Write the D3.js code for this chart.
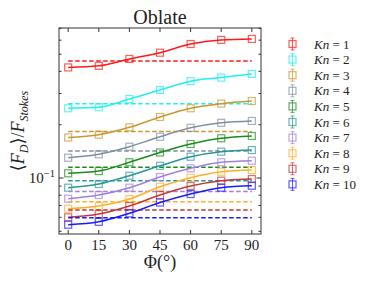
<!DOCTYPE html>
<html>
<head>
<meta charset="utf-8">
<script src="https://cdn.jsdelivr.net/npm/d3@7"></script>
<style>
  body { margin: 0; background: #fff; }
  text { font-family: 'Liberation Serif', 'DejaVu Serif', serif; fill: #222; }
</style>
</head>
<body>
<svg width="374" height="281"></svg>
<script>
const phi = [0, 15, 30, 45, 60, 75, 90];
const knLabels = ['1', '2', '3', '4', '5', '6', '7', '8', '9', '10'];
const colors = ['#ff1a1a', '#1ff0f0', '#c9972e', '#7f8ea0', '#1a8c1a',
  '#2a9696', '#a080e0', '#ffad2a', '#c03838', '#1a1aff'];

// <F_D>/F_Stokes per Kn, one value per phi
const drag = [
  [0.421, 0.430, 0.470, 0.510, 0.571, 0.602, 0.610],
  [0.2476, 0.251, 0.279, 0.314, 0.352, 0.369, 0.387],
  [0.1694, 0.1757, 0.1933, 0.221, 0.2476, 0.263, 0.272],
  [0.1302, 0.1361, 0.1502, 0.171, 0.192, 0.205, 0.210],
  [0.1063, 0.1095, 0.1227, 0.1393, 0.1556, 0.1676, 0.1727],
  [0.0882, 0.0925, 0.1030, 0.1172, 0.1319, 0.1408, 0.1439],
  [0.0764, 0.0802, 0.0882, 0.1013, 0.1134, 0.1227, 0.1252],
  [0.0671, 0.0695, 0.0761, 0.0893, 0.1004, 0.1085, 0.1110],
  [0.0600, 0.0626, 0.0695, 0.0802, 0.0901, 0.0966, 0.0987],
  [0.0545, 0.0566, 0.0632, 0.0727, 0.0812, 0.0882, 0.0905]
];
// orientation-averaged reference (dashed)
const average = [0.458, 0.263, 0.183, 0.142, 0.1149, 0.0966, 0.0839, 0.0735, 0.0659, 0.0597];

const xTicks = [0, 15, 30, 45, 60, 75, 90];
const yMinor = [0.05, 0.06, 0.07, 0.08, 0.09, 0.2, 0.3, 0.4, 0.5, 0.6, 0.7];

const svg = d3.select('svg');
const mLeft = 59, mRight = 261, mTop = 28, mBottom = 234;

const x = d3.scaleLinear().domain([-4.5, 94.5]).range([mLeft, mRight]);
const y = d3.scaleLog().domain([0.0483, 0.703]).range([mBottom, mTop]);

const line = d3.line()
  .x((d, i) => x(phi[i]))
  .y((d) => y(d))
  .curve(d3.curveMonotoneX);

const plot = svg.append('g');

drag.forEach((series, k) => {
  plot.append('line')
    .attr('x1', x(0)).attr('x2', x(90))
    .attr('y1', y(average[k])).attr('y2', y(average[k]))
    .attr('stroke', colors[k])
    .attr('stroke-width', 1.5)
    .attr('stroke-dasharray', '4.5,2.5');

  plot.append('path')
    .attr('d', line(series))
    .attr('fill', 'none')
    .attr('stroke', colors[k])
    .attr('stroke-width', 1.5);

  plot.selectAll(null)
    .data(series)
    .enter()
    .append('rect')
    .attr('x', (d, i) => x(phi[i]) - 3.5)
    .attr('y', (d) => y(d) - 3.5)
    .attr('width', 7)
    .attr('height', 7)
    .attr('fill', 'none')
    .attr('stroke', colors[k])
    .attr('stroke-opacity', 0.7)
    .attr('stroke-width', 1.2);
});

// axes, ticks inward on all four sides
const axes = svg.append('g').attr('stroke', '#333');
axes.append('rect')
  .attr('x', mLeft).attr('y', mTop)
  .attr('width', mRight - mLeft).attr('height', mBottom - mTop)
  .attr('fill', 'none').attr('stroke-width', 1);

xTicks.forEach((t) => {
  axes.append('line').attr('x1', x(t)).attr('x2', x(t)).attr('y1', mBottom).attr('y2', mBottom - 4);
  axes.append('line').attr('x1', x(t)).attr('x2', x(t)).attr('y1', mTop).attr('y2', mTop + 4);
});
[[0.1, 4.5]].concat(yMinor.map((v) => [v, 2.5])).forEach(([v, len]) => {
  axes.append('line').attr('x1', mLeft).attr('x2', mLeft + len).attr('y1', y(v)).attr('y2', y(v));
  axes.append('line').attr('x1', mRight).attr('x2', mRight - len).attr('y1', y(v)).attr('y2', y(v));
});

svg.selectAll('.xlab')
  .data(xTicks)
  .enter()
  .append('text')
  .attr('x', (d) => x(d))
  .attr('y', 250)
  .attr('text-anchor', 'middle')
  .attr('font-size', 15)
  .text((d) => d);

const yl = svg.append('text')
  .attr('x', 55)
  .attr('y', y(0.1) + 5)
  .attr('text-anchor', 'end')
  .attr('font-size', 15);
yl.append('tspan').text('10');
yl.append('tspan').attr('dy', -6).attr('font-size', 10.5).text('\u22121');

svg.append('text')
  .attr('x', (mLeft + mRight) / 2)
  .attr('y', 24)
  .attr('text-anchor', 'middle')
  .attr('font-size', 20)
  .text('Oblate');

const xl = svg.append('text')
  .attr('x', (mLeft + mRight) / 2)
  .attr('y', 268)
  .attr('text-anchor', 'middle')
  .attr('font-size', 18);
xl.append('tspan').text('\u03a6(\u00b0)');

const ylab = svg.append('text')
  .attr('transform', `translate(24,${(mTop + mBottom) / 2}) rotate(-90)`)
  .attr('text-anchor', 'middle')
  .attr('font-size', 18);
ylab.append('tspan').text('\u27e8');
ylab.append('tspan').attr('font-style', 'italic').text('F');
ylab.append('tspan').attr('font-style', 'italic').attr('font-size', 12).attr('dy', 4).text('D');
ylab.append('tspan').attr('dy', -4).text('\u27e9/');
ylab.append('tspan').attr('font-style', 'italic').text('F');
ylab.append('tspan').attr('font-style', 'italic').attr('font-size', 12).attr('dy', 4).text('Stokes');

// legend
const legend = svg.append('g');
knLabels.forEach((kn, k) => {
  const ly = 44 + k * 15.6;
  const g = legend.append('g').attr('stroke', colors[k]).attr('stroke-opacity', 0.7);
  g.append('line').attr('x1', 292.5).attr('x2', 292.5).attr('y1', ly - 6).attr('y2', ly + 6).attr('stroke-width', 1);
  g.append('line').attr('x1', 290.5).attr('x2', 294.5).attr('y1', ly - 6).attr('y2', ly - 6);
  g.append('line').attr('x1', 290.5).attr('x2', 294.5).attr('y1', ly + 6).attr('y2', ly + 6);
  g.append('rect').attr('x', 289).attr('y', ly - 3.5).attr('width', 7).attr('height', 7)
    .attr('fill', 'none').attr('stroke-width', 1.2);

  const t = legend.append('text')
    .attr('x', 314)
    .attr('y', ly + 4.5)
    .attr('font-size', 13);
  t.append('tspan').attr('font-style', 'italic').text('Kn');
  t.append('tspan').text(' = ' + kn);
});
</script>
</body>
</html>
